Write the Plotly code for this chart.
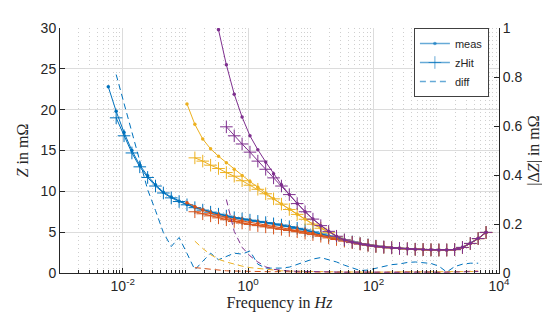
import plotly.graph_objects as go

# frequency grid in Hz
freq = [0.005888, 0.007862, 0.01050, 0.01401, 0.01871, 0.02498, 0.03334, 0.04451, 0.05943, 0.07933,
        0.1059, 0.1414, 0.1888, 0.2520, 0.3365, 0.4492, 0.5998, 0.8007, 1.069, 1.427,
        1.905, 2.544, 3.396, 4.534, 6.053, 8.081, 10.79, 14.40, 19.23, 25.67,
        34.28, 45.76, 61.09, 81.56, 108.9, 145.4, 194.1, 259.1, 345.9, 461.8,
        616.6, 823.2, 1099, 1467, 1959, 2615, 3491, 4661, 6223]

# series 1 (blue)
blue_meas = [22.8, 19.8, 17.2, 15.0, 13.2, 11.9, 10.8, 9.9, 9.3, 8.8,
             8.4, 8.05, 7.75, 7.5, 7.25, 7.0, 6.8, 6.65, 6.5, 6.35,
             6.2, 6.05, 5.9, 5.7, 5.5, 5.3, 5.05, 4.8, 4.55, 4.3,
             4.05, 3.82, 3.62, 3.45, 3.3, 3.19, 3.1, 3.03, 2.97, 2.92,
             2.88, 2.85, 2.83, 2.83, 2.88, 3.15, 3.65, 4.25, 5.0]
blue_zhit = [19.0, 16.8, 14.7, 13.0, 11.7, 10.65, 9.8, 9.2, 8.75,
             8.35, 8.0, 7.7, 7.45, 7.2, 6.97, 6.77, 6.62, 6.47, 6.32,
             6.17, 6.02, 5.87, 5.67, 5.47, 5.27, 5.03, 4.78, 4.53, 4.28,
             4.03, 3.8, 3.6, 3.44, 3.29, 3.18, 3.09, 3.02, 2.96, 2.91,
             2.87, 2.84, 2.82, 2.82, 2.87, 3.13, 3.62, 4.22, 4.97]
blue_diff = [0.81, 0.69, 0.57, 0.45, 0.34, 0.255, 0.165, 0.108, 0.145, 0.08,
             0.013, 0.048, 0.081, 0.054, 0.068, 0.081, 0.077, 0.09, 0.036, 0.02,
             0.02, 0.02, 0.024, 0.036, 0.047, 0.057, 0.063, 0.055, 0.045, 0.032,
             0.02, 0.01, 0.012, 0.02, 0.028, 0.034, 0.037, 0.043, 0.045, 0.043,
             0.039, 0.028, 0.004, 0.026, 0.036, 0.04, 0.04]

# series 2 (orange)
orange_meas = [8.6, 8.1, 7.7, 7.35, 7.05, 6.8, 6.55, 6.38, 6.22, 6.07,
               5.92, 5.77, 5.62, 5.45, 5.27, 5.08, 4.86, 4.63, 4.4, 4.17,
               3.95, 3.75, 3.57, 3.41, 3.27, 3.17, 3.09, 3.02, 2.96, 2.91,
               2.87, 2.84, 2.82, 2.82, 2.87, 3.13, 3.62, 4.22, 4.97]
orange_zhit = [7.5, 7.25, 7.0, 6.75, 6.52, 6.3, 6.12, 5.95, 5.8, 5.65,
               5.5, 5.35, 5.2, 5.05, 4.88, 4.7, 4.5, 4.3, 4.1, 3.9,
               3.72, 3.55, 3.4, 3.26, 3.16, 3.08, 3.01, 2.95, 2.9, 2.86,
               2.83, 2.81, 2.81, 2.86, 3.12, 3.6, 4.2, 4.95]
orange_diff = [0.022, 0.018, 0.014, 0.011, 0.009, 0.008, 0.007, 0.006, 0.006, 0.005,
               0.005, 0.006, 0.004, 0.005, 0.003, 0.004, 0.005, 0.004, 0.003, 0.004,
               0.005, 0.004, 0.003, 0.004, 0.004, 0.003, 0.004, 0.005, 0.004, 0.003,
               0.004, 0.003, 0.004, 0.005, 0.006, 0.007, 0.008]

# series 3 (yellow)
yellow_meas = [20.7, 18.2, 16.4, 15.2, 14.3, 13.5, 12.7, 11.95, 11.2, 10.5,
               9.75, 9.1, 8.45, 7.8, 7.2, 6.6, 6.0, 5.5, 4.95, 4.45,
               4.05, 3.78, 3.58, 3.42, 3.28, 3.18, 3.1, 3.03, 2.97, 2.92,
               2.88, 2.85, 2.83, 2.83, 2.88, 3.15, 3.65, 4.25, 5.0]
yellow_zhit = [14.1, 13.7, 13.2, 12.8, 12.3, 11.85, 11.3, 10.75, 10.25, 9.7,
               9.08, 8.43, 7.78, 7.18, 6.58, 5.98, 5.48, 4.93, 4.43, 4.03,
               3.77, 3.57, 3.41, 3.27, 3.17, 3.09, 3.02, 2.96, 2.91, 2.87,
               2.84, 2.82, 2.82, 2.87, 3.13, 3.62, 4.22, 4.97]
yellow_diff = [0.13, 0.1, 0.075, 0.056, 0.045, 0.036, 0.028, 0.022, 0.018, 0.014,
               0.011, 0.009, 0.008, 0.007, 0.006, 0.006, 0.005, 0.005, 0.005, 0.004,
               0.004, 0.003, 0.004, 0.003, 0.004, 0.004, 0.003, 0.004, 0.003, 0.004,
               0.004, 0.003, 0.004, 0.004, 0.005, 0.005, 0.006]

# series 4 (purple)
purple_meas = [29.8, 25.5, 21.9, 19.1, 16.8, 15.1, 13.6, 12.15, 10.8, 9.6,
               8.5, 7.5, 6.6, 5.8, 5.1, 4.5, 4.05, 3.78, 3.58, 3.42,
               3.28, 3.18, 3.1, 3.03, 2.97, 2.92, 2.88, 2.85, 2.83, 2.83,
               2.88, 3.15, 3.65, 4.25, 5.0]
purple_zhit = [17.9, 16.8, 15.8, 14.8, 13.7, 12.7, 11.65, 10.65, 9.6, 8.5,
               7.5, 6.6, 5.8, 5.1, 4.5, 4.05, 3.77, 3.57, 3.41, 3.27,
               3.17, 3.09, 3.02, 2.96, 2.91, 2.87, 2.84, 2.82, 2.82, 2.87,
               3.13, 3.62, 4.22, 4.97]
purple_diff = [0.3, 0.17, 0.105, 0.07, 0.045, 0.025, 0.015, 0.01, 0.008, 0.007,
               0.006, 0.005, 0.005, 0.004, 0.004, 0.004, 0.003, 0.004, 0.003, 0.004,
               0.004, 0.003, 0.003, 0.004, 0.003, 0.004, 0.004, 0.003, 0.004, 0.005,
               0.005, 0.006, 0.006]

series = [
    # color, meas, zhit, diff, start index of meas, zhit, diff
    ("#0072BD", blue_meas, blue_zhit, blue_diff, 0, 1, 1),
    ("#D95319", orange_meas, orange_zhit, orange_diff, 10, 11, 11),
    ("#EDB120", yellow_meas, yellow_zhit, yellow_diff, 10, 11, 11),
    ("#7E2F8E", purple_meas, purple_zhit, purple_diff, 14, 15, 15),
]

fig = go.Figure()

for color, meas, zhit, diff, sm, sz, sd in series:
    fig.add_trace(go.Scatter(
        x=freq[sm:sm + len(meas)], y=meas, mode="lines+markers",
        line=dict(color=color, width=1),
        marker=dict(symbol="circle", size=3.5, color=color),
        showlegend=False, hoverinfo="skip"))
    fig.add_trace(go.Scatter(
        x=freq[sz:sz + len(zhit)], y=zhit, mode="lines+markers",
        line=dict(color=color, width=1),
        marker=dict(symbol="cross-thin", size=9, line=dict(color=color, width=1)),
        showlegend=False, hoverinfo="skip"))

for color, meas, zhit, diff, sm, sz, sd in series:
    fig.add_trace(go.Scatter(
        x=freq[sd:sd + len(diff)], y=diff, mode="lines", yaxis="y2",
        line=dict(color=color, width=1, dash="6px,4px"),
        showlegend=False, hoverinfo="skip"))

leg_color = "rgba(0,114,189,0.6)"
fig.add_trace(go.Scatter(x=[None], y=[None], mode="lines+markers", name="meas",
                         line=dict(color=leg_color, width=1.5),
                         marker=dict(symbol="circle", size=3.5, color=leg_color)))
fig.add_trace(go.Scatter(x=[None], y=[None], mode="lines+markers", name="zHit",
                         line=dict(color=leg_color, width=1.5),
                         marker=dict(symbol="cross-thin", size=9, line=dict(color=leg_color, width=1))))
fig.add_trace(go.Scatter(x=[None], y=[None], mode="lines", name="diff",
                         line=dict(color=leg_color, width=1.5, dash="6px,4px")))

minor_vals = []
for e in range(-3, 4):
    for m in range(1, 10):
        v = m * 10.0 ** e
        if m == 1 and e % 2 == 0:
            continue
        minor_vals.append(v)

axis_color = "#262626"
tick_font = dict(family="Liberation Sans, Arial, sans-serif", size=14, color=axis_color)
title_font = dict(family="Liberation Serif, Times New Roman, serif", size=16, color=axis_color)

fig.update_layout(
    width=550, height=323,
    margin=dict(l=52, r=59, t=18, b=58),
    paper_bgcolor="white", plot_bgcolor="white",
    xaxis=dict(
        type="log", range=[-3, 4],
        tickvals=[0.01, 1, 100, 10000],
        ticktext=["10<sup>-2</sup>", "10<sup>0</sup>", "10<sup>2</sup>", "10<sup>4</sup>"],
        ticks="inside", ticklen=5, tickcolor=axis_color,
        showgrid=True, gridcolor="#dcdcdc", gridwidth=1,
        showline=True, linecolor=axis_color, linewidth=1,
        zeroline=False, tickfont=tick_font,
        title=dict(text="Frequency in <i>Hz</i>", font=title_font, standoff=4),
        minor=dict(tickvals=minor_vals, ticks="inside", ticklen=3, tickcolor=axis_color,
                   showgrid=True, gridcolor="#cfcfcf", griddash="1px,3px", gridwidth=1),
    ),
    yaxis=dict(
        range=[0, 30], tickvals=[0, 5, 10, 15, 20, 25, 30],
        ticks="inside", ticklen=5, tickcolor=axis_color,
        showgrid=True, gridcolor="#dcdcdc", gridwidth=1,
        showline=True, linecolor=axis_color, linewidth=1,
        zeroline=False, tickfont=tick_font,
        title=dict(text="<i>Z</i> in mΩ", font=title_font, standoff=8),
    ),
    yaxis2=dict(
        overlaying="y", side="right",
        range=[0, 1], tickvals=[0, 0.2, 0.4, 0.6, 0.8, 1],
        ticktext=["0", "0.2", "0.4", "0.6", "0.8", "1"],
        ticks="inside", ticklen=5, tickcolor=axis_color,
        showgrid=False,
        showline=True, linecolor=axis_color, linewidth=1,
        zeroline=False, tickfont=tick_font,
        title=dict(text="|Δ<i>Z</i>| in mΩ", font=title_font, standoff=6),
    ),
    legend=dict(
        x=0.977, y=1.0, xanchor="right", yanchor="top",
        bgcolor="white", bordercolor="#404040", borderwidth=1,
        font=dict(family="Liberation Sans, Arial, sans-serif", size=11, color=axis_color),
        itemwidth=30, tracegroupgap=0,
    ),
    showlegend=True,
)

fig.write_html("out.html")
